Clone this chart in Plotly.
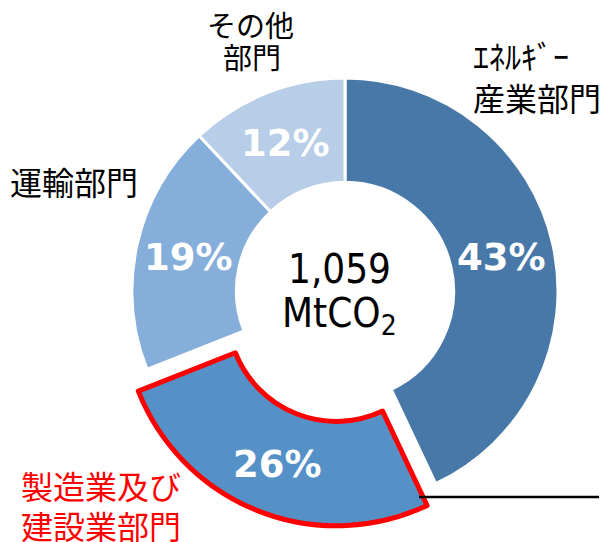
import numpy as np
import plotly.graph_objects as go

sectors = ["エネルギー産業部門", "製造業及び建設業部門", "運輸部門", "その他部門"]
shares = [43, 26, 19, 12]
colors = ["#4878A8", "#5591C7", "#85AEDB", "#B8CDE7"]
line_colors = ["white", "#FF0000", "white", "white"]
line_widths = [3, 5, 3, 3]
pulls = [0, 0.11, 0, 0]
total_text = "1,059"
unit_text = "MtCO<sub>2</sub>"

OFF = 8  # page body margin of the browser
W, H = 607 - OFF, 542 - OFF


def px(x):
    return (x - OFF) / W


def py(y):
    return 1 - (y - OFF) / H


cx, cy, r = 345, 291, 213
hole = 0.51
half = r * (1 + max(pulls))

fig = go.Figure(go.Pie(
    labels=sectors,
    values=shares,
    sort=False,
    direction="clockwise",
    rotation=0,
    hole=hole,
    pull=pulls,
    marker=dict(colors=colors, line=dict(color=line_colors, width=line_widths)),
    textinfo="none",
    domain=dict(x=[px(cx - half), px(cx + half)],
                y=[py(cy + half), py(cy - half)]),
    showlegend=False,
    hoverinfo="label+percent",
))

# percentage labels placed in the middle of each ring segment
vals = np.array(shares, dtype=float)
ends = np.cumsum(vals) / vals.sum() * 2 * np.pi
starts = ends - vals / vals.sum() * 2 * np.pi
mids = (starts + ends) / 2
rmid = r * (1 + hole) / 2
ann = []
for v, a, p in zip(shares, mids, pulls):
    rr = rmid + p * r
    x = cx + rr * np.sin(a)
    y = cy - rr * np.cos(a) + 2
    ann.append(dict(x=px(x), y=py(y), text=f"{v}%",
                    font=dict(family="DejaVu Sans", size=37, color="white",
                              weight="bold"),
                    xanchor="center", yanchor="middle"))

center_font = dict(family="DejaVu Sans Condensed, DejaVu Sans", size=40, color="black")
lab_font = dict(family="Noto Sans CJK JP", size=32, color="black")
red_font = dict(family="Noto Sans CJK JP", size=32, color="#FF0000")
small_font = dict(family="Noto Sans CJK JP", size=29, color="black")
ann += [
    dict(x=px(339), y=py(269), text=total_text, font=center_font,
         xanchor="center", yanchor="middle"),
    dict(x=px(339), y=py(316), text=unit_text, font=center_font,
         xanchor="center", yanchor="middle"),
    dict(x=px(471), y=py(55), text="ｴﾈﾙｷﾞｰ", font=lab_font,
         xanchor="left", yanchor="middle"),
    dict(x=px(471), y=py(97), text="産業部門", font=lab_font,
         xanchor="left", yanchor="middle"),
    dict(x=px(250), y=py(24), text="その他", font=small_font,
         xanchor="center", yanchor="middle"),
    dict(x=px(252), y=py(56), text="部門", font=small_font,
         xanchor="center", yanchor="middle"),
    dict(x=px(8), y=py(181), text="運輸部門", font=lab_font,
         xanchor="left", yanchor="middle"),
    dict(x=px(19), y=py(485), text="製造業及び", font=red_font,
         xanchor="left", yanchor="middle"),
    dict(x=px(19), y=py(525), text="建設業部門", font=red_font,
         xanchor="left", yanchor="middle"),
]
for a in ann:
    a.update(xref="paper", yref="paper", showarrow=False)

fig.update_layout(
    width=W, height=H,
    margin=dict(l=0, r=0, t=0, b=0),
    paper_bgcolor="white", plot_bgcolor="white",
    annotations=ann,
    shapes=[dict(type="line", xref="paper", yref="paper",
                 x0=px(419), x1=1, y0=py(497), y1=py(497),
                 line=dict(color="black", width=2.5))],
)

fig.write_html("out.html")
